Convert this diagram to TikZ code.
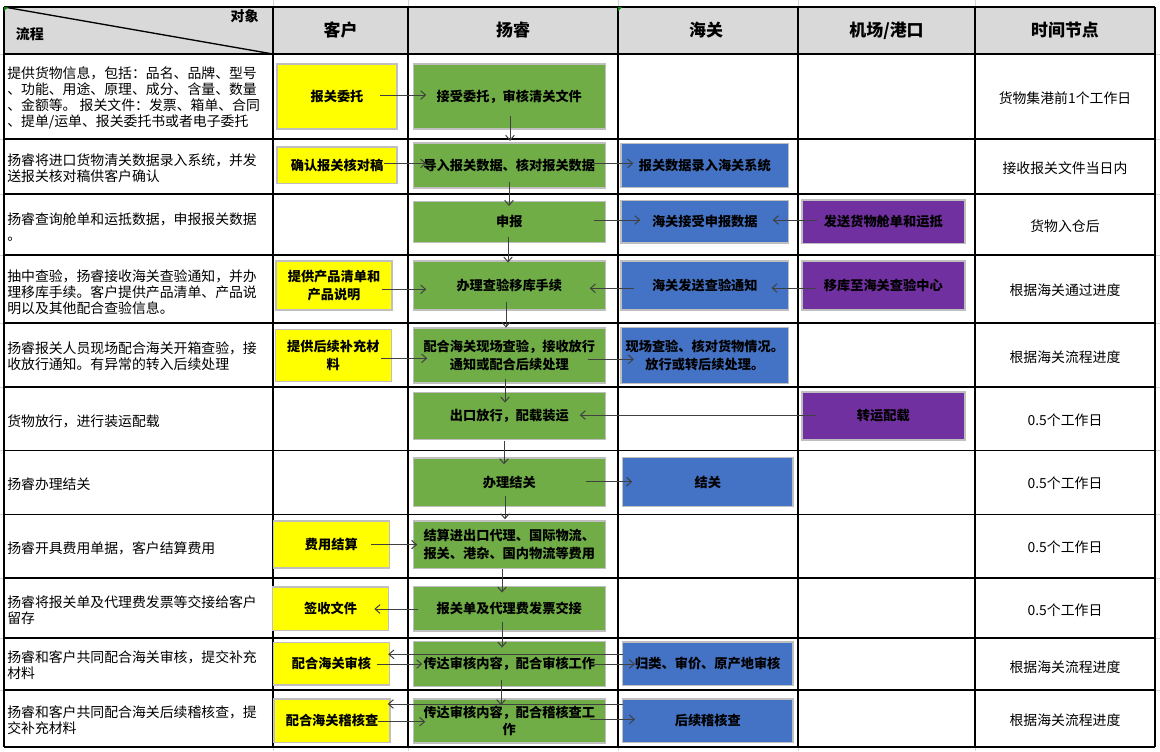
\documentclass[tikz,border=0pt]{standalone}
\usepackage{fontspec}
\setmainfont{Noto Sans CJK SC}
\usepackage{xcolor}
\usetikzlibrary{arrows.meta,calc}
\definecolor{head-gray}{RGB}{217,217,217}
\definecolor{grid-gray}{RGB}{212,212,212}
\definecolor{edge-gray}{RGB}{191,191,191}
\definecolor{client-yellow}{RGB}{255,255,0}
\definecolor{agent-green}{RGB}{112,173,71}
\definecolor{customs-blue}{RGB}{68,114,196}
\definecolor{port-purple}{RGB}{112,48,160}
\definecolor{flag-green}{RGB}{0,140,0}
\newcommand{\headfont}{\fontsize{12.7pt}{15pt}\selectfont\bfseries}
\newcommand{\cornerfont}{\fontsize{10.5pt}{12pt}\selectfont\bfseries}
\newcommand{\cellfont}{\fontsize{10.4pt}{12pt}\selectfont}
\newcommand{\boxfont}{\fontsize{9.9pt}{13.2pt}\selectfont\bfseries}
\tikzstyle{rule}=[line width=1pt, black]
\tikzstyle{grid}=[line width=0.75pt, grid-gray]
\tikzstyle{box}=[draw=edge-gray, line width=1.1pt, inner sep=1pt, align=center, font=\boxfont, text=black]
\tikzstyle{client}=[box, fill=client-yellow, minimum width=87pt]
\tikzstyle{agent}=[box, fill=agent-green, minimum width=144pt]
\tikzstyle{customs}=[box, fill=customs-blue, minimum width=125.6pt]
\tikzstyle{customswide}=[customs, minimum width=127.9pt]
\tikzstyle{port}=[box, fill=port-purple, minimum width=122.3pt]
\tikzstyle{flow}=[draw=black!75, line width=0.75pt, -{Straight Barb[length=3.7pt,width=6.5pt]}]
\tikzstyle{celltext}=[inner sep=0pt, font=\cellfont, align=left, anchor=west]
\tikzstyle{timetext}=[inner sep=0pt, font=\cellfont]
\begin{document}
\begin{tikzpicture}[x=0.75pt, y=-0.75pt]
	\useasboundingbox (0,0) rectangle (1160,751);
	% sheet grid round the table
	\foreach \x in {273,408,618,798,975} {
		\draw[grid] (\x,0) -- (\x,7);
		\draw[grid] (\x,747) -- (\x,751);
	}
	\foreach \y in {54,139,194,255,323,387,450.5,514.5,578,638,690} {
		\draw[grid] (0,\y) -- (4,\y);
		\draw[grid] (1155,\y) -- (1160,\y);
	}
	% table
	\fill[head-gray] (4,7) rectangle (1155,54);
	\draw[rule] (4,7) -- (273,54);
	\foreach \y in {7,54,139,194,255,323,387,450.5,514.5,578,638,690,747}
		\draw[rule] (4,\y) -- (1155,\y);
	\foreach \x in {4,273,408,618,798,975,1155}
		\draw[rule] (\x,7) -- (\x,747);
	\fill[flag-green] (4,7) -- (8,7) -- (4,11) -- cycle;
	\fill[flag-green] (618,7) -- (622,7) -- (618,11) -- cycle;
	% header
	\node[font=\cornerfont] (object) at (244.5,16) {对象};
	\node[font=\cornerfont] (process) at (30,34) {流程};
	\node[font=\headfont] (hclient) at (340.5,30.5) {客户};
	\node[font=\headfont] (hagent) at (513,30.5) {扬睿};
	\node[font=\headfont] (hcustoms) at (706,30.5) {海关};
	\node[font=\headfont] (hport) at (886.5,30.5) {机场/港口};
	\node[font=\headfont] (htime) at (1065,30.5) {时间节点};
	% process column
	\node[celltext] (s1) at (7,98) {提供货物信息，包括：品名、品牌、型号\\、功能、用途、原理、成分、含量、数量\\、金额等。 报关文件：发票、箱单、合同\\、提单/运单、报关委托书或者电子委托};
	\node[celltext] (s2) at (7,168) {扬睿将进口货物清关数据录入系统，并发\\送报关核对稿供客户确认};
	\node[celltext] (s3) at (7,227.5) {扬睿查询舱单和运抵数据，申报报关数据\\。};
	\node[celltext] (s4) at (7,292) {抽中查验，扬睿接收海关查验通知，并办\\理移库手续。客户提供产品清单、产品说\\明以及其他配合查验信息。};
	\node[celltext] (s5) at (7,356.5) {扬睿报关人员现场配合海关开箱查验，接\\收放行通知。有异常的转入后续处理};
	\node[celltext] (s6) at (7,421.5) {货物放行，进行装运配载};
	\node[celltext] (s7) at (7,484) {扬睿办理结关};
	\node[celltext] (s8) at (7,548) {扬睿开具费用单据，客户结算费用};
	\node[celltext] (s9) at (7,610.5) {扬睿将报关单及代理费发票等交接给客户\\留存};
	\node[celltext] (s10) at (7,665.5) {扬睿和客户共同配合海关审核，提交补充\\材料};
	\node[celltext] (s11) at (7,720.5) {扬睿和客户共同配合海关后续稽核查，提\\交补充材料};
	% time column
	\node[timetext] (t1) at (1065,98.3) {货物集港前1个工作日};
	\node[timetext] (t2) at (1065,168.3) {接收报关文件当日内};
	\node[timetext] (t3) at (1065,226.7) {货物入仓后};
	\node[timetext] (t4) at (1065,290) {根据海关通过进度};
	\node[timetext] (t5) at (1065,356.7) {根据海关流程进度};
	\node[timetext] (t6) at (1065,420) {0.5个工作日};
	\node[timetext] (t7) at (1065,483.3) {0.5个工作日};
	\node[timetext] (t8) at (1065,547.3) {0.5个工作日};
	\node[timetext] (t9) at (1065,610) {0.5个工作日};
	\node[timetext] (t10) at (1065,666.7) {根据海关流程进度};
	\node[timetext] (t11) at (1065,720) {根据海关流程进度};
	% boxes
	\node[client, minimum width=90.2pt, minimum height=48.75pt] (Y1) at (337,96.3) {报关委托};
	\node[agent, minimum height=48.75pt] (G1) at (509.3,96.3) {接受委托，审核清关文件};
	\node[client, minimum width=90.2pt, minimum height=27.5pt] (Y2) at (337,165.4) {确认报关核对稿};
	\node[agent, minimum height=33.75pt] (G2) at (509.3,165.4) {导入报关数据、核对报关数据};
	\node[customs, minimum height=33pt] (B2) at (704.8,165.4) {报关数据录入海关系统};
	\node[agent, minimum height=30.75pt] (G3) at (509.3,221.8) {申报};
	\node[customs, minimum height=32pt] (B3) at (704.8,221.8) {海关接受申报数据};
	\node[port, minimum height=32.5pt] (P3) at (883.3,221.8) {发送货物舱单和运抵};
	\node[client, minimum height=36.75pt] (Y4) at (334,285.5) {提供产品清单和\\产品说明};
	\node[agent, minimum height=36.75pt] (G4) at (509.3,285.5) {办理查验移库手续};
	\node[customs, minimum height=36.75pt] (B4) at (704.8,285.5) {海关发送查验通知};
	\node[port, minimum height=36.75pt] (P4) at (883.3,285.5) {移库至海关查验中心};
	\node[client, minimum height=39.3pt] (Y5) at (333.3,355.5) {提供后续补充材\\料};
	\node[agent, minimum height=41.5pt] (G5) at (509.3,355.5) {配合海关现场查验，接收放行\\通知或配合后续处理};
	\node[customs, minimum height=42pt] (B5) at (704.8,355.5) {现场查验、核对货物情况。\\放行或转后续处理。};
	\node[agent, minimum height=35.25pt] (G6) at (509.3,416) {出口放行，配载装运};
	\node[port, minimum height=36.3pt] (P6) at (883.3,416) {转运配载};
	\node[agent, minimum height=36.5pt] (G7) at (509.3,482.2) {办理结关};
	\node[customswide, minimum height=36.75pt] (B7) at (707.8,482.2) {结关};
	\node[client, minimum height=35.25pt] (Y8) at (331.3,544.6) {费用结算};
	\node[agent, minimum height=35.7pt] (G8) at (509.3,544.6) {结算进出口代理、国际物流、\\报关、港杂、国内物流等费用};
	\node[client, minimum height=32.5pt] (Y9) at (330.6,608.6) {签收文件};
	\node[agent, minimum height=33.5pt] (G9) at (509.3,608.6) {报关单及代理费发票交接};
	\node[client, minimum height=32pt] (Y10) at (331.5,663.8) {配合海关审核};
	\node[agent, minimum height=33.75pt] (G10) at (509.3,663.8) {传达审核内容，配合审核工作};
	\node[customswide, minimum height=32.5pt] (B10) at (707.8,663.8) {归类、审价、原产地审核};
	\node[client, minimum height=32.5pt] (Y11) at (332,720.8) {配合海关稽核查};
	\node[agent, minimum height=33pt] (G11) at (509.3,720.8) {传达审核内容，配合稽核查工\\作};
	\node[customswide, minimum height=32.5pt] (B11) at (707.8,720.8) {后续稽核查};
	% flow down the agent column
	\draw[flow] ($(G1.south)+(0.7,-13.8)$) -- ($(G2.north)+(0.7,-1.2)$);
	\draw[flow] ($(G2.south)+(-0.3,-6.2)$) -- ($(G3.north)+(-0.3,5.4)$);
	\draw[flow] ($(G3.south)+(-1.3,-5.6)$) -- ($(G4.north)+(-1.3,2.3)$);
	\draw[flow] ($(G4.south)+(-3.3,-8.3)$) -- ($(G5.north)+(-3.3,0.5)$);
	\draw[flow] ($(G5.south)+(-4.3,-5.2)$) -- ($(G6.north)+(-4.3,10.8)$);
	\draw[flow] ($(G6.south)+(-5.3,0.5)$) -- ($(G7.north)+(-5.3,7.2)$);
	\draw[flow] ($(G7.south)+(-4.3,-11.5)$) -- ($(G8.north)+(-4.3,-0.8)$);
	\draw[flow] ($(G8.south)+(-7.3,0)$) -- ($(G9.north)+(-7.3,7)$);
	\draw[flow] ($(G9.south)+(-7.3,-9.2)$) -- ($(G10.north)+(-7.3,7)$);
	\draw[flow] ($(G10.south)+(-8.3,-7)$) -- ($(G11.north)+(-8.3,7.2)$);
	% flow across the rows
	\draw[flow] ($(Y1.east)+(-18,-1.3)$) -- ($(G1.west)+(13.7,-1.3)$);
	\draw[flow] ($(Y2.east)+(-14,-2)$) -- ($(G2.west)+(13.7,-2)$);
	\draw[flow] ($(G2.east)+(-12.3,-2)$) -- ($(B2.west)+(13,-2)$);
	\draw[flow] ($(G3.east)+(-12.3,-1.8)$) -- ($(B3.west)+(20,-1.8)$);
	\draw[flow] ($(P3.west)+(16,-1.8)$) -- ($(B3.east)+(-16.5,-1.8)$);
	\draw[flow] ($(Y4.east)+(-11,3.8)$) -- ($(G4.west)+(13.7,3.8)$);
	\draw[flow] ($(B4.west)+(13.6,2.8)$) -- ($(G4.east)+(-16.3,2.8)$);
	\draw[flow] ($(P4.west)+(15,2.5)$) -- ($(B4.east)+(-17.8,2.5)$);
	\draw[flow] ($(Y5.east)+(-11,2.8)$) -- ($(G5.west)+(14.7,2.8)$);
	\draw[flow] ($(G5.east)+(-18.3,3.8)$) -- ($(B5.west)+(13.6,3.8)$);
	\draw[flow] ($(P6.west)+(15,-1)$) -- ($(G6.east)+(-26.3,-1)$);
	\draw[flow] ($(G7.east)+(-20.3,-0.5)$) -- ($(B7.west)+(10.4,-0.5)$);
	\draw[flow] ($(Y8.east)+(-19,0)$) -- ($(G8.west)+(4.7,0)$);
	\draw[flow] ($(G9.west)+(5.7,0.4)$) -- ($(Y9.east)+(-15,0.4)$);
	\draw[flow] ($(Y10.east)+(-13.5,0.2)$) -- ($(G10.west)+(9.7,0.2)$);
	\draw[flow] ($(B10.west)+(1.5,-9.5)$) -- ($(Y10.east)+(-2,-9.5)$);
	\draw[flow] ($(G10.east)+(-12.3,0.2)$) -- ($(B10.west)+(13.2,0.2)$);
	\draw[flow] ($(Y11.east)+(-12.5,0.9)$) -- ($(G11.west)+(12.7,0.9)$);
	\draw[flow] ($(B11.west)+(1.5,-16.8)$) -- ($(Y11.east)+(-3,-16.8)$);
	\draw[flow] ($(G11.east)+(-16.3,-1.5)$) -- ($(B11.west)+(13.2,-1.5)$);
\end{tikzpicture}
\end{document}
